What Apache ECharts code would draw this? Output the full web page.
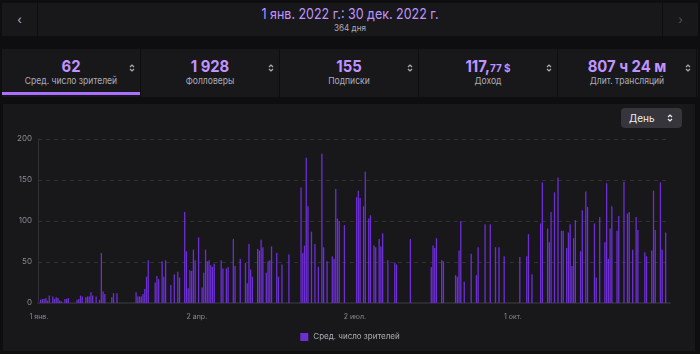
<!DOCTYPE html>
<html>
<head>
<meta charset="utf-8">
<script src="https://cdn.jsdelivr.net/npm/echarts@6/dist/echarts.min.js"></script>
<style>
  html, body { margin: 0; padding: 0; background: #0e0e10; width: 700px; height: 354px; overflow: hidden; font-family: Inter, "Noto Sans", sans-serif; }
  .bar { position: absolute; left: 2px; top: 3px; width: 696px; height: 33px; background: #18181b; }
  .bar .btn { position: absolute; top: 0; width: 35px; height: 33px; color: #adadb8; font-size: 12px; line-height: 33px; text-align: center; }
  .bar .btn.l { left: 0; border-right: 1px solid #0e0e10; }
  .bar .btn.r { right: 0; border-left: 1px solid #0e0e10; color: #53535f; }
  .bar .title { position: absolute; left: 0; right: 0; top: 2px; text-align: center; color: #bf94ff; font-size: 14.5px; transform: scaleX(0.86); }
  .bar .sub { position: absolute; left: 0; right: 0; top: 19px; text-align: center; color: #adadb8; font-size: 9px; transform: scaleX(0.9); }
  .tabs { position: absolute; left: 2px; top: 49px; width: 696px; height: 48px; background: #18181b; }
  .tab { position: absolute; top: 0; height: 48px; width: 138px; border-right: 1px solid #0e0e10; text-align: center; }
  .tab .v { position: absolute; left: 0; right: 0; top: 7px; color: #bf94ff; font-size: 16.5px; font-weight: 700; transform: scaleX(0.9); }
  .tab .v small { font-size: 11px; font-weight: 700; }
  .tab .n { position: absolute; left: 0; right: 0; top: 26px; color: #adadb8; font-size: 9.5px; transform: scaleX(0.9); }
  .tab svg { position: absolute; right: 5px; top: 14px; }
  .tab.on::after { content: ""; position: absolute; left: 0; right: 0; bottom: 2px; height: 3px; background: #a970ff; }
  .panel { position: absolute; left: 3px; top: 104px; width: 692px; height: 247px; background: #18181b; }
  .sel { position: absolute; left: 621px; top: 108px; width: 61px; height: 20px; background: #35353b; border-radius: 4px; color: #efeff1; font-size: 10px; line-height: 20px; }
  .sel span { position: absolute; left: 8px; }
  .sel svg { position: absolute; right: 9px; top: 5px; }
  #chart { position: absolute; left: 0; top: 0; width: 700px; height: 354px; }
</style>
</head>
<body>
<div class="bar">
  <div class="btn l">&#8249;</div>
  <div class="title">1 янв. 2022 г.: 30 дек. 2022 г.</div>
  <div class="sub">364 дня</div>
  <div class="btn r">&#8250;</div>
</div>
<div class="tabs" id="tabs"></div>
<div class="panel"></div>
<div class="sel"><span>День</span>
  <svg width="6" height="10" viewBox="0 0 6 10"><path d="M1 4 L3 2 L5 4 M1 6 L3 8 L5 6" stroke="#efeff1" stroke-width="1.2" fill="none"/></svg>
</div>
<div id="chart"></div>
<script>
  // шапка с метриками
  var tabValues = ['62', '1 928', '155', '117,<small>77 $</small>', '807 ч 24 м'];
  var tabNames = ['Сред. число зрителей', 'Фолловеры', 'Подписки', 'Доход', 'Длит. трансляций'];

  // дни с трансляциями (индекс дня от 1 янв.) и среднее число зрителей
  var streamDays = [1, 2, 3, 4, 5, 6, 8, 9, 10, 11, 12, 13, 15, 16, 17, 22, 23, 24, 25, 27, 28, 29, 30, 31, 33,
    35, 36, 37, 38, 42, 43, 45, 56, 57, 58, 59, 60, 61, 62, 63, 67, 68, 69, 71, 72, 73, 76, 78, 80, 81,
    84, 85, 86, 87, 88, 89, 90, 92, 94, 95, 96, 97, 98, 99, 100, 101, 105, 106, 108, 109, 112, 113, 116,
    119, 120, 121, 122, 123, 126, 127, 128, 129, 131, 132, 133, 134, 137, 138, 140, 144,
    151, 152, 153, 154, 155, 157, 159, 161, 163, 164, 166, 169, 170, 171, 172, 173, 176,
    183, 184, 185, 187, 188, 190, 191, 193, 194, 196, 197, 198, 201, 205, 206, 214,
    226, 227, 228, 229, 232, 233, 240, 241, 242, 243, 245, 249, 252, 253, 257, 260, 263, 265, 268,
    277, 281, 282, 284, 289, 290, 293, 294, 295, 297, 299, 301, 302,
    304, 305, 306, 307, 308, 309, 312, 313, 315, 316, 320, 321, 323,
    326, 327, 328, 329, 330, 333, 334, 337, 339, 340, 342, 344, 345,
    349, 350, 353, 354, 355, 358, 359, 361];
  var streamViewers = [4, 5, 5, 6, 3, 9, 8, 5, 7, 6, 3, 2, 5, 5, 6, 4, 5, 9, 8, 7, 8, 8, 13, 9, 8,
    4, 61, 14, 11, 7, 12, 12, 13, 8, 8, 8, 11, 17, 32, 52, 25, 33, 29, 51, 32, 52, 22, 35, 38, 31,
    111, 63, 18, 40, 39, 65, 52, 80, 19, 37, 65, 51, 52, 46, 44, 48, 52, 42, 42, 44, 78, 45, 54,
    49, 24, 72, 41, 32, 66, 64, 77, 68, 37, 51, 52, 69, 61, 32, 47, 59,
    141, 61, 70, 177, 118, 87, 72, 44, 182, 68, 51, 57, 54, 139, 103, 100, 95,
    129, 137, 128, 118, 160, 103, 107, 70, 68, 78, 69, 85, 52, 49, 47, 78,
    44, 70, 67, 79, 52, 51, 34, 32, 64, 100, 26, 60, 34, 68, 96, 96, 68, 68, 57,
    56, 57, 84, 35, 97, 147, 91, 74, 111, 135, 153, 88, 88,
    67, 86, 96, 45, 79, 101, 63, 113, 136, 117, 97, 31, 105,
    74, 146, 54, 91, 118, 88, 106, 148, 109, 111, 65, 105, 89,
    62, 57, 64, 137, 89, 147, 65, 86];
  var monthNames = ['янв.', 'февр.', 'мар.', 'апр.', 'мая', 'июн.', 'июл.', 'авг.', 'сент.', 'окт.', 'нояб.', 'дек.'];
  var dayCount = 364;

  var tabs = document.getElementById('tabs');
  tabs.innerHTML = tabValues.map(function(v, i) {
    return '<div class="tab' + (i === 0 ? ' on' : '') + '" style="left:' + (i * 139) + 'px">' +
      '<div class="v">' + v + '</div><div class="n">' + tabNames[i] + '</div>' +
      '<svg width="6" height="10" viewBox="0 0 6 10"><path d="M1 4 L3 2 L5 4 M1 6 L3 8 L5 6" stroke="#adadb8" stroke-width="1.2" fill="none"/></svg></div>';
  }).join('');

  var days = [];
  var values = [];
  for (var i = 0; i < dayCount; i++) {
    var d = new Date(2022, 0, 1 + i);
    days.push(d.getDate() + ' ' + monthNames[d.getMonth()]);
    values.push(0);
  }
  streamDays.forEach(function(day, k) {
    values[day] = streamViewers[k];
  });

  var chart = echarts.init(document.getElementById('chart'));
  chart.setOption({
    animation: false,
    backgroundColor: 'transparent',
    textStyle: { fontFamily: 'Inter, "Noto Sans", sans-serif' },
    grid: { left: 38, right: 30, top: 139, bottom: 51 },
    legend: {
      bottom: 8,
      left: 'center',
      icon: 'rect',
      itemWidth: 8,
      itemHeight: 8,
      itemGap: 5,
      textStyle: { color: '#adadb8', fontSize: 8 },
      data: ['Сред. число зрителей']
    },
    xAxis: {
      type: 'category',
      data: days,
      axisLine: { lineStyle: { color: '#2a2a2f', width: 2 } },
      axisTick: { show: false },
      axisLabel: { interval: 90, color: '#8a8a94', fontSize: 7, margin: 10 }
    },
    yAxis: {
      type: 'value',
      min: 0,
      max: 200,
      interval: 50,
      axisLine: { show: true, lineStyle: { color: '#2f2f35' } },
      axisLabel: { color: '#8a8a94', fontSize: 8, margin: 6 },
      splitLine: { lineStyle: { color: '#303036', type: [4, 4] } }
    },
    series: [{
      name: 'Сред. число зрителей',
      type: 'bar',
      data: values,
      barCategoryGap: '25%',
      itemStyle: { color: '#6d2ed6' }
    }]
  });
</script>
</body>
</html>
